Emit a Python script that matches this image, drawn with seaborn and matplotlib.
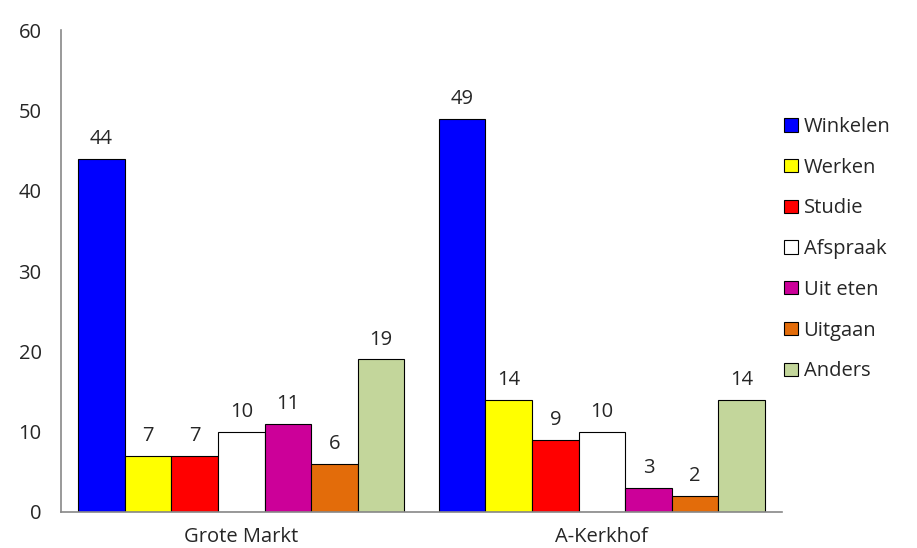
import pandas as pd
import seaborn as sns
import matplotlib.pyplot as plt

locaties = ['Grote Markt', 'A-Kerkhof']
redenen = ['Winkelen', 'Werken', 'Studie', 'Afspraak', 'Uit eten', 'Uitgaan', 'Anders']
grote_markt = [44, 7, 7, 10, 11, 6, 19]
a_kerkhof = [49, 14, 9, 10, 3, 2, 14]
kleuren = ['#0000FF', '#FFFF00', '#FF0000', '#FFFFFF', '#CC0099', '#E36C0A', '#C3D69B']

df = pd.DataFrame({
    'locatie': [locaties[0]] * 7 + [locaties[1]] * 7,
    'reden': redenen * 2,
    'waarde': grote_markt + a_kerkhof,
})

sns.set_style('white')
plt.rcParams['font.family'] = ['Open Sans', 'DejaVu Sans']

fig = plt.figure(figsize=(9.17, 5.48), dpi=100)
ax = fig.add_axes([0.0665, 0.0657, 0.7865, 0.879])

sns.barplot(data=df, x='locatie', y='waarde', hue='reden', order=locaties,
            hue_order=redenen, palette=kleuren, saturation=1, width=0.905,
            edgecolor='black', linewidth=0.8, ax=ax)

for c in ax.containers:
    ax.bar_label(c, padding=7, fontsize=14.5)

ax.set_ylim(0, 60)
ax.set_yticks(range(0, 61, 10))
ax.set_xlim(-0.5, 1.5)
ax.set_xlabel('')
ax.set_ylabel('')
ax.tick_params(axis='both', length=0, labelsize=14.5)
ax.tick_params(axis='y', pad=14)
ax.tick_params(axis='x', pad=11)
for s in ['top', 'right']:
    ax.spines[s].set_visible(False)
for s in ['left', 'bottom']:
    ax.spines[s].set_color('#888888')
    ax.spines[s].set_linewidth(1.2)

ax.legend(loc='upper left', bbox_to_anchor=(0.992, 0.837), frameon=False,
          fontsize=14.5, handlelength=0.65, handleheight=0.65,
          handletextpad=0.3, labelspacing=1.03, borderaxespad=0)

fig.savefig('out.png', dpi=100)
